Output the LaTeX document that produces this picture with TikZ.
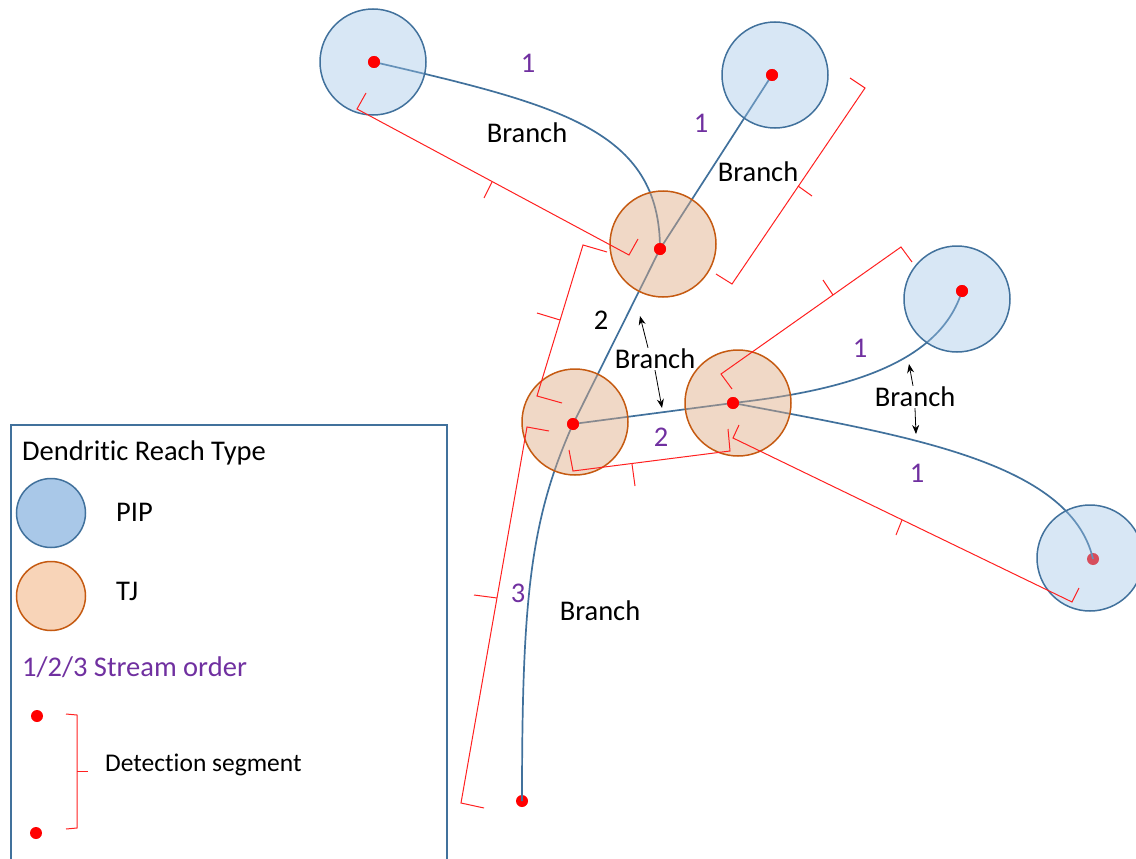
\documentclass[tikz,border=0pt]{standalone}
\usepackage{fontspec}
\setmainfont[Ligatures=NoCommon]{Carlito}
\usetikzlibrary{arrows.meta}
\definecolor{pipedge}{HTML}{41719C}
\definecolor{pipfill}{HTML}{9DC3E6}
\definecolor{pipleg}{HTML}{A9C8E8}
\definecolor{tjedge}{HTML}{C55A11}
\definecolor{tjfill}{HTML}{DEA880}
\definecolor{tjleg}{HTML}{F8D4B8}
\definecolor{streamblue}{HTML}{41719C}
\definecolor{ordpurple}{HTML}{7030A0}
\definecolor{segred}{HTML}{FF2020}
\tikzset{
  pip/.style={circle, draw=pipedge, line width=1.5pt, fill=pipfill, fill opacity=0.4, minimum size=106pt, inner sep=0pt},
  tj/.style={circle, draw=tjedge, line width=1.5pt, fill=tjfill, fill opacity=0.45, minimum size=106pt, inner sep=0pt},
  rdot/.style={circle, fill=red, minimum size=12pt, inner sep=0pt},
  stream/.style={draw=streamblue, line width=1.7pt},
  seg/.style={draw=segred, line width=1pt},
  lbl/.style={font=\fontsize{28.5}{33}\selectfont, text=black, inner sep=1pt},
  ord/.style={lbl, text=ordpurple},
  arr/.style={-{Stealth[length=9pt,width=7pt]}, line width=0.8pt, draw=black},
  legbox/.style={draw=pipedge, line width=2pt}
}
\begin{document}
\begin{tikzpicture}[x=1pt,y=-1pt]
\useasboundingbox (0,0) rectangle (1136,859);

% red dots (points)
\node[rdot] (d1) at (374,62) {};
\node[rdot] (d2) at (772,75) {};
\node[rdot] (d3) at (962,291) {};
\node[rdot] (d4) at (1093,559) {};
\node[rdot] (j1) at (660,249) {};
\node[rdot] (j2) at (573,424) {};
\node[rdot] (j3) at (733,403) {};
\node[rdot] (out) at (522,801) {};

% streams
\draw[stream] (d1.center) .. controls (560,105) and (660,130) .. (j1.center);
\draw[stream] (d2.center) -- (j1.center) -- (j2.center);
\draw[stream] (j2.center) .. controls (530,520) and (522,600) .. (out.center);
\draw[stream] (j2.center) -- (j3.center);
\draw[stream] (j3.center) .. controls (850,390) and (940,362) .. (d3.center);
\draw[stream] (j3.center) .. controls (900,435) and (1070,460) .. (d4.center);

% circles
\node[pip] (P1) at (373,62) {};
\node[pip] (P2) at (775,75) {};
\node[pip] (P3) at (957,299) {};
\node[pip] (P4) at (1090,558) {};
\node[tj] (T1) at (663,244) {};
\node[tj] (T2) at (575,422) {};
\node[tj] (T3) at (738,403) {};

% dots on top
\foreach \n/\p in {e1/{(374,62)},e2/{(772,75)},e3/{(962,291)},e5/{(660,249)},e6/{(573,424)},e7/{(733,403)}}
  \node[rdot] (\n) at \p {};

% detection segments
\draw[seg] (366,93) -- (357,109) -- (629,255) -- (638,239);
\draw[seg] (492,182) -- (484,198);
\draw[seg] (850,78) -- (865,88) -- (732,284) -- (716,274);
\draw[seg] (798,186) -- (812,196);
\draw[seg] (607,252) -- (583,245) -- (537,396) -- (562,403);
\draw[seg] (560,320) -- (537,313);
\draw[seg] (549,431) -- (527,427) -- (461,803) -- (484,808);
\draw[seg] (497,598) -- (474,595);
\draw[seg] (569,450) -- (573,471) -- (730,451) -- (728,429);
\draw[seg] (632,464) -- (635,486);
\draw[seg] (732,389) -- (721,374) -- (901,247) -- (912,262);
\draw[seg] (833,295) -- (823,280);
\draw[seg] (739,425) -- (733,438) -- (1072,602) -- (1079,588);
\draw[seg] (902,520) -- (896,535);

% labels
\node[ord] (o1) at (528,63) {1};
\node[ord] (o2) at (701,123) {1};
\node[lbl] (o3) at (601,320) {2};
\node[ord] (o4) at (661,437) {2};
\node[ord] (o5) at (860,348) {1};
\node[ord] (o6) at (917,473) {1};
\node[ord] (o7) at (518,593) {3};
\node[lbl] (b1) at (527,133) {Branch};
\node[lbl] (b2) at (758,172) {Branch};
\node[lbl] (b3) at (600,611) {Branch};
\node[lbl] (b4) at (655,359) {Branch};
\node[lbl] (b5) at (915,397) {Branch};

% branch arrows
\coordinate (a1) at (640,316);
\coordinate (a2) at (662,408);
\coordinate (a3) at (909,364);
\coordinate (a4) at (916,434);
\draw[arr] ([xshift=-7pt]b4.north) -- (a1);
\draw[arr] (b4.south) -- (a2);
\draw[arr] ([xshift=-2pt]b5.north) -- (a3);
\draw[arr] (b5.south) -- (a4);

% legend
\draw[legbox] (11,862) -- (11,425) -- (447,425) -- (447,862);
\node[lbl, anchor=west] (lt) at (21,453) {Dendritic Reach Type};
\node[circle, draw=pipedge, line width=1.5pt, fill=pipleg, minimum size=69pt, inner sep=0pt] (lp) at (51,513) {};
\node[lbl, anchor=west] (lpt) at (115,512) {PIP};
\node[circle, draw=tjedge, line width=1.5pt, fill=tjleg, minimum size=69pt, inner sep=0pt] (lj) at (51,596) {};
\node[lbl, anchor=west] (ljt) at (115,591) {TJ};
\node[ord, anchor=west] (lo) at (21,667) {1/2/3 Stream order};
\node[rdot] (ld1) at (37,716) {};
\node[rdot] (ld2) at (36,833) {};
\draw[seg] (66,714) -- (77,715) -- (77,828) -- (66,829);
\draw[seg] (77,771) -- (88,771);
\node[lbl, font=\fontsize{25.5}{30}\selectfont, anchor=west] (ls) at (104,765) {Detection segment};
\end{tikzpicture}
\end{document}
